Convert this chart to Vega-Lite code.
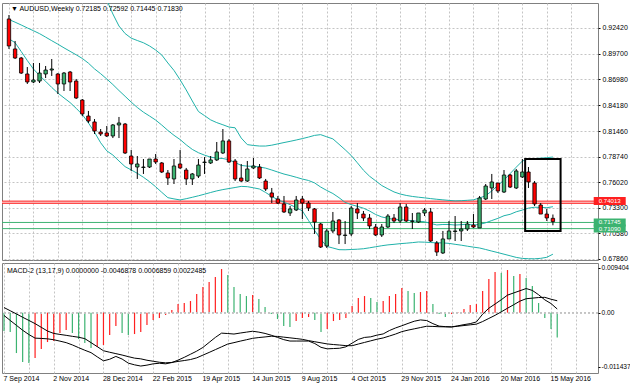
{
  "$schema": "https://vega.github.io/schema/vega-lite/v6.json",
  "background": "white",
  "padding": {"left": 1, "top": 2, "right": 0, "bottom": 6.5},
  "spacing": 3,
  "bounds": "flush",
  "config": {
    "view": {"stroke": "#808080", "strokeWidth": 1},
    "font": "Liberation Sans",
    "axis": {"labelFont": "Liberation Sans", "labelFontSize": 7, "labelColor": "#000000", "gridColor": "#c4c4c4", "gridDash": [2, 2], "gridWidth": 1, "labelOverlap": false, "labelSeparation": 0}
  },
  "datasets": {
    "candles": [
      {"date":"2014-09-07","open":0.9338,"high":0.9380,"low":0.9019,"close":0.9051,"upper":null,"middle":0.9332,"lower":0.9127},
      {"date":"2014-09-14","open":0.9019,"high":0.9104,"low":0.8912,"close":0.8923,"upper":null,"middle":0.9304,"lower":0.9086},
      {"date":"2014-09-21","open":0.8923,"high":0.8934,"low":0.8753,"close":0.8763,"upper":null,"middle":0.9274,"lower":0.8992},
      {"date":"2014-09-28","open":0.8753,"high":0.8827,"low":0.8647,"close":0.8668,"upper":null,"middle":0.9243,"lower":0.8896},
      {"date":"2014-10-05","open":0.8668,"high":0.8870,"low":0.8657,"close":0.8689,"upper":null,"middle":0.9213,"lower":0.8806},
      {"date":"2014-10-12","open":0.8678,"high":0.8870,"low":0.8657,"close":0.8763,"upper":null,"middle":0.9182,"lower":0.8737},
      {"date":"2014-10-19","open":0.8753,"high":0.8838,"low":0.8710,"close":0.8795,"upper":null,"middle":0.9145,"lower":0.8675},
      {"date":"2014-10-26","open":0.8795,"high":0.8912,"low":0.8732,"close":0.8806,"upper":null,"middle":0.9107,"lower":0.8610},
      {"date":"2014-11-02","open":0.8753,"high":0.8763,"low":0.8540,"close":0.8647,"upper":null,"middle":0.9070,"lower":0.8550},
      {"date":"2014-11-09","open":0.8647,"high":0.8774,"low":0.8572,"close":0.8763,"upper":null,"middle":0.9031,"lower":0.8499},
      {"date":"2014-11-16","open":0.8774,"high":0.8785,"low":0.8572,"close":0.8668,"upper":null,"middle":0.8994,"lower":0.8449},
      {"date":"2014-11-23","open":0.8678,"high":0.8700,"low":0.8487,"close":0.8498,"upper":null,"middle":0.8957,"lower":0.8388},
      {"date":"2014-11-30","open":0.8476,"high":0.8487,"low":0.8306,"close":0.8328,"upper":null,"middle":0.8918,"lower":0.8322},
      {"date":"2014-12-07","open":0.8306,"high":0.8360,"low":0.8232,"close":0.8253,"upper":null,"middle":0.8868,"lower":0.8233},
      {"date":"2014-12-14","open":0.8243,"high":0.8274,"low":0.8115,"close":0.8147,"upper":0.9795,"middle":0.8807,"lower":0.8134},
      {"date":"2014-12-21","open":0.8136,"high":0.8168,"low":0.8094,"close":0.8115,"upper":0.9667,"middle":0.8756,"lower":0.8022},
      {"date":"2014-12-28","open":0.8126,"high":0.8200,"low":0.8083,"close":0.8094,"upper":0.9540,"middle":0.8700,"lower":0.7936},
      {"date":"2015-01-04","open":0.8094,"high":0.8221,"low":0.8072,"close":0.8211,"upper":0.9391,"middle":0.8641,"lower":0.7891},
      {"date":"2015-01-11","open":0.8211,"high":0.8296,"low":0.8072,"close":0.8232,"upper":0.9263,"middle":0.8577,"lower":0.7828},
      {"date":"2015-01-18","open":0.8221,"high":0.8232,"low":0.7902,"close":0.7913,"upper":0.9183,"middle":0.8516,"lower":0.7768},
      {"date":"2015-01-25","open":0.7881,"high":0.7945,"low":0.7722,"close":0.7796,"upper":0.9134,"middle":0.8454,"lower":0.7733},
      {"date":"2015-02-01","open":0.7764,"high":0.7881,"low":0.7637,"close":0.7796,"upper":0.9109,"middle":0.8397,"lower":0.7697},
      {"date":"2015-02-08","open":0.7759,"high":0.7849,"low":0.7690,"close":0.7764,"upper":0.9085,"middle":0.8347,"lower":0.7655},
      {"date":"2015-02-15","open":0.7764,"high":0.7849,"low":0.7754,"close":0.7849,"upper":0.9051,"middle":0.8306,"lower":0.7608},
      {"date":"2015-02-22","open":0.7849,"high":0.7902,"low":0.7796,"close":0.7817,"upper":0.9008,"middle":0.8263,"lower":0.7554},
      {"date":"2015-03-01","open":0.7807,"high":0.7817,"low":0.7700,"close":0.7711,"upper":0.8955,"middle":0.8210,"lower":0.7495},
      {"date":"2015-03-08","open":0.7700,"high":0.7732,"low":0.7573,"close":0.7647,"upper":0.8870,"middle":0.8153,"lower":0.7438},
      {"date":"2015-03-15","open":0.7637,"high":0.7849,"low":0.7583,"close":0.7775,"upper":0.8791,"middle":0.8101,"lower":0.7425},
      {"date":"2015-03-22","open":0.7796,"high":0.7945,"low":0.7743,"close":0.7754,"upper":0.8691,"middle":0.8056,"lower":0.7414},
      {"date":"2015-03-29","open":0.7732,"high":0.7754,"low":0.7573,"close":0.7637,"upper":0.8583,"middle":0.8000,"lower":0.7427},
      {"date":"2015-04-05","open":0.7637,"high":0.7700,"low":0.7573,"close":0.7690,"upper":0.8466,"middle":0.7951,"lower":0.7442},
      {"date":"2015-04-12","open":0.7668,"high":0.7849,"low":0.7647,"close":0.7785,"upper":0.8354,"middle":0.7916,"lower":0.7458},
      {"date":"2015-04-19","open":0.7812,"high":0.7870,"low":0.7690,"close":0.7817,"upper":0.8310,"middle":0.7890,"lower":0.7475},
      {"date":"2015-04-26","open":0.7807,"high":0.7881,"low":0.7796,"close":0.7839,"upper":0.8265,"middle":0.7869,"lower":0.7493},
      {"date":"2015-05-03","open":0.7839,"high":0.8030,"low":0.7828,"close":0.7924,"upper":0.8236,"middle":0.7858,"lower":0.7510},
      {"date":"2015-05-10","open":0.7913,"high":0.8168,"low":0.7902,"close":0.8041,"upper":0.8213,"middle":0.7854,"lower":0.7524},
      {"date":"2015-05-17","open":0.8041,"high":0.8062,"low":0.7807,"close":0.7817,"upper":0.8189,"middle":0.7841,"lower":0.7535},
      {"date":"2015-05-24","open":0.7828,"high":0.7849,"low":0.7615,"close":0.7637,"upper":0.8181,"middle":0.7812,"lower":0.7546},
      {"date":"2015-05-31","open":0.7647,"high":0.7796,"low":0.7605,"close":0.7615,"upper":0.8072,"middle":0.7781,"lower":0.7558},
      {"date":"2015-06-07","open":0.7615,"high":0.7828,"low":0.7605,"close":0.7743,"upper":0.8002,"middle":0.7773,"lower":0.7555},
      {"date":"2015-06-14","open":0.7754,"high":0.7860,"low":0.7743,"close":0.7775,"upper":0.7993,"middle":0.7772,"lower":0.7543},
      {"date":"2015-06-21","open":0.7764,"high":0.7796,"low":0.7637,"close":0.7647,"upper":0.7987,"middle":0.7764,"lower":0.7530},
      {"date":"2015-06-28","open":0.7615,"high":0.7637,"low":0.7509,"close":0.7530,"upper":0.7987,"middle":0.7752,"lower":0.7493},
      {"date":"2015-07-05","open":0.7488,"high":0.7541,"low":0.7381,"close":0.7445,"upper":0.7996,"middle":0.7732,"lower":0.7451},
      {"date":"2015-07-12","open":0.7424,"high":0.7456,"low":0.7371,"close":0.7381,"upper":0.8010,"middle":0.7710,"lower":0.7416},
      {"date":"2015-07-19","open":0.7371,"high":0.7456,"low":0.7275,"close":0.7286,"upper":0.8024,"middle":0.7689,"lower":0.7390},
      {"date":"2015-07-26","open":0.7275,"high":0.7349,"low":0.7243,"close":0.7318,"upper":0.8037,"middle":0.7673,"lower":0.7364},
      {"date":"2015-08-02","open":0.7307,"high":0.7456,"low":0.7296,"close":0.7413,"upper":0.8051,"middle":0.7655,"lower":0.7332},
      {"date":"2015-08-09","open":0.7424,"high":0.7456,"low":0.7211,"close":0.7381,"upper":0.8066,"middle":0.7636,"lower":0.7298},
      {"date":"2015-08-16","open":0.7381,"high":0.7403,"low":0.7296,"close":0.7328,"upper":0.8082,"middle":0.7621,"lower":0.7197},
      {"date":"2015-08-23","open":0.7318,"high":0.7328,"low":0.7052,"close":0.7179,"upper":0.8100,"middle":0.7595,"lower":0.7090},
      {"date":"2015-08-30","open":0.7158,"high":0.7169,"low":0.6903,"close":0.6913,"upper":0.8108,"middle":0.7551,"lower":0.6996},
      {"date":"2015-09-06","open":0.6924,"high":0.7105,"low":0.6903,"close":0.7084,"upper":0.8085,"middle":0.7515,"lower":0.6920},
      {"date":"2015-09-13","open":0.7084,"high":0.7286,"low":0.7062,"close":0.7190,"upper":0.8063,"middle":0.7482,"lower":0.6903},
      {"date":"2015-09-20","open":0.7201,"high":0.7211,"low":0.6945,"close":0.7041,"upper":0.8006,"middle":0.7438,"lower":0.6885},
      {"date":"2015-09-27","open":0.7036,"high":0.7190,"low":0.6945,"close":0.7041,"upper":0.7948,"middle":0.7388,"lower":0.6884},
      {"date":"2015-10-04","open":0.7052,"high":0.7349,"low":0.7030,"close":0.7328,"upper":0.7886,"middle":0.7364,"lower":0.6887},
      {"date":"2015-10-11","open":0.7318,"high":0.7381,"low":0.7211,"close":0.7275,"upper":0.7809,"middle":0.7346,"lower":0.6890},
      {"date":"2015-10-18","open":0.7264,"high":0.7296,"low":0.7190,"close":0.7222,"upper":0.7730,"middle":0.7326,"lower":0.6895},
      {"date":"2015-10-25","open":0.7222,"high":0.7264,"low":0.7105,"close":0.7137,"upper":0.7666,"middle":0.7296,"lower":0.6905},
      {"date":"2015-11-01","open":0.7126,"high":0.7158,"low":0.7030,"close":0.7041,"upper":0.7617,"middle":0.7259,"lower":0.6916},
      {"date":"2015-11-08","open":0.7041,"high":0.7158,"low":0.7020,"close":0.7126,"upper":0.7567,"middle":0.7233,"lower":0.6927},
      {"date":"2015-11-15","open":0.7126,"high":0.7264,"low":0.7116,"close":0.7243,"upper":0.7532,"middle":0.7219,"lower":0.6936},
      {"date":"2015-11-22","open":0.7222,"high":0.7264,"low":0.7169,"close":0.7190,"upper":0.7499,"middle":0.7206,"lower":0.6942},
      {"date":"2015-11-29","open":0.7190,"high":0.7381,"low":0.7169,"close":0.7339,"upper":0.7477,"middle":0.7204,"lower":0.6949},
      {"date":"2015-12-06","open":0.7339,"high":0.7371,"low":0.7179,"close":0.7190,"upper":0.7462,"middle":0.7199,"lower":0.6954},
      {"date":"2015-12-13","open":0.7185,"high":0.7275,"low":0.7105,"close":0.7190,"upper":0.7451,"middle":0.7193,"lower":0.6960},
      {"date":"2015-12-20","open":0.7179,"high":0.7275,"low":0.7169,"close":0.7275,"upper":0.7443,"middle":0.7186,"lower":0.6967},
      {"date":"2015-12-27","open":0.7275,"high":0.7328,"low":0.7243,"close":0.7307,"upper":0.7436,"middle":0.7182,"lower":0.6965},
      {"date":"2016-01-03","open":0.7286,"high":0.7328,"low":0.6967,"close":0.6977,"upper":0.7428,"middle":0.7164,"lower":0.6961},
      {"date":"2016-01-10","open":0.6956,"high":0.6977,"low":0.6818,"close":0.6860,"upper":0.7421,"middle":0.7148,"lower":0.6958},
      {"date":"2016-01-17","open":0.6850,"high":0.7084,"low":0.6839,"close":0.6999,"upper":0.7415,"middle":0.7153,"lower":0.6957},
      {"date":"2016-01-24","open":0.6999,"high":0.7190,"low":0.6999,"close":0.7084,"upper":0.7409,"middle":0.7153,"lower":0.6952},
      {"date":"2016-01-31","open":0.7078,"high":0.7243,"low":0.6977,"close":0.7084,"upper":0.7404,"middle":0.7147,"lower":0.6942},
      {"date":"2016-02-07","open":0.7084,"high":0.7190,"low":0.6977,"close":0.7105,"upper":0.7406,"middle":0.7151,"lower":0.6933},
      {"date":"2016-02-14","open":0.7105,"high":0.7190,"low":0.7084,"close":0.7158,"upper":0.7410,"middle":0.7156,"lower":0.6922},
      {"date":"2016-02-21","open":0.7147,"high":0.7264,"low":0.7116,"close":0.7126,"upper":0.7415,"middle":0.7146,"lower":0.6912},
      {"date":"2016-02-28","open":0.7116,"high":0.7456,"low":0.7116,"close":0.7435,"upper":0.7435,"middle":0.7154,"lower":0.6903},
      {"date":"2016-03-06","open":0.7424,"high":0.7583,"low":0.7413,"close":0.7562,"upper":0.7458,"middle":0.7171,"lower":0.6887},
      {"date":"2016-03-13","open":0.7541,"high":0.7690,"low":0.7424,"close":0.7605,"upper":0.7510,"middle":0.7195,"lower":0.6870},
      {"date":"2016-03-20","open":0.7594,"high":0.7594,"low":0.7488,"close":0.7509,"upper":0.7568,"middle":0.7218,"lower":0.6854},
      {"date":"2016-03-27","open":0.7498,"high":0.7732,"low":0.7488,"close":0.7679,"upper":0.7626,"middle":0.7246,"lower":0.6837},
      {"date":"2016-04-03","open":0.7679,"high":0.7690,"low":0.7541,"close":0.7551,"upper":0.7694,"middle":0.7261,"lower":0.6820},
      {"date":"2016-04-10","open":0.7541,"high":0.7743,"low":0.7530,"close":0.7722,"upper":0.7762,"middle":0.7288,"lower":0.6803},
      {"date":"2016-04-17","open":0.7658,"high":0.7849,"low":0.7647,"close":0.7711,"upper":0.7827,"middle":0.7306,"lower":0.6792},
      {"date":"2016-04-24","open":0.7711,"high":0.7764,"low":0.7541,"close":0.7605,"upper":0.7851,"middle":0.7327,"lower":0.6789},
      {"date":"2016-05-01","open":0.7594,"high":0.7615,"low":0.7349,"close":0.7371,"upper":0.7854,"middle":0.7336,"lower":0.6788},
      {"date":"2016-05-08","open":0.7360,"high":0.7381,"low":0.7264,"close":0.7264,"upper":0.7858,"middle":0.7335,"lower":0.6793},
      {"date":"2016-05-15","open":0.7264,"high":0.7318,"low":0.7190,"close":0.7222,"upper":0.7863,"middle":0.7331,"lower":0.6804},
      {"date":"2016-05-22","open":0.72185,"high":0.72592,"low":0.71445,"close":0.71830,"upper":0.7870,"middle":0.7342,"lower":0.6837}
    ],
    "macd": [
      {"date":"2014-09-07","hist":-0.003486,"dir":"down","macd":-0.000531,"signal":0.000966},
      {"date":"2014-09-14","hist":-0.003676,"dir":"down","macd":-0.001478,"signal":0.00036},
      {"date":"2014-09-21","hist":-0.007655,"dir":"down","macd":-0.002406,"signal":-0.000246},
      {"date":"2014-09-28","hist":-0.00936,"dir":"down","macd":-0.003335,"signal":-0.000872},
      {"date":"2014-10-05","hist":-0.009549,"dir":"down","macd":-0.004149,"signal":-0.001478},
      {"date":"2014-10-12","hist":-0.008602,"dir":"up","macd":-0.004831,"signal":-0.002084},
      {"date":"2014-10-19","hist":-0.006897,"dir":"up","macd":-0.004888,"signal":-0.002785},
      {"date":"2014-10-26","hist":-0.00557,"dir":"up","macd":-0.004964,"signal":-0.003486},
      {"date":"2014-11-02","hist":-0.005381,"dir":"up","macd":-0.005135,"signal":-0.003941},
      {"date":"2014-11-09","hist":-0.003865,"dir":"up","macd":-0.0054,"signal":-0.00413},
      {"date":"2014-11-16","hist":-0.003297,"dir":"up","macd":-0.005684,"signal":-0.004301},
      {"date":"2014-11-23","hist":-0.003865,"dir":"down","macd":-0.00612,"signal":-0.00449},
      {"date":"2014-11-30","hist":-0.005002,"dir":"down","macd":-0.006631,"signal":-0.004661},
      {"date":"2014-12-07","hist":-0.00576,"dir":"down","macd":-0.007124,"signal":-0.004926},
      {"date":"2014-12-14","hist":-0.006707,"dir":"down","macd":-0.007579,"signal":-0.005684},
      {"date":"2014-12-21","hist":-0.006518,"dir":"up","macd":-0.008375,"signal":-0.006442},
      {"date":"2014-12-28","hist":-0.006139,"dir":"up","macd":-0.009132,"signal":-0.007219},
      {"date":"2015-01-04","hist":-0.004244,"dir":"up","macd":-0.008829,"signal":-0.007503},
      {"date":"2015-01-11","hist":-0.002539,"dir":"up","macd":-0.008299,"signal":-0.007768},
      {"date":"2015-01-18","hist":-0.003865,"dir":"down","macd":-0.008791,"signal":-0.008034},
      {"date":"2015-01-25","hist":-0.004244,"dir":"down","macd":-0.009568,"signal":-0.008337},
      {"date":"2015-02-01","hist":-0.004055,"dir":"up","macd":-0.00989,"signal":-0.008621},
      {"date":"2015-02-08","hist":-0.003676,"dir":"up","macd":-0.010118,"signal":-0.008754},
      {"date":"2015-02-15","hist":-0.002349,"dir":"up","macd":-0.009947,"signal":-0.009019},
      {"date":"2015-02-22","hist":-0.001402,"dir":"up","macd":-0.009701,"signal":-0.009208},
      {"date":"2015-03-01","hist":-0.001023,"dir":"up","macd":-0.009587,"signal":-0.009398},
      {"date":"2015-03-08","hist":-0.000455,"dir":"up","macd":-0.009701,"signal":-0.009511},
      {"date":"2015-03-15","hist":0.000493,"dir":"up","macd":-0.009455,"signal":-0.009436},
      {"date":"2015-03-22","hist":0.001629,"dir":"up","macd":-0.0090,"signal":-0.009246},
      {"date":"2015-03-29","hist":0.001819,"dir":"up","macd":-0.008469,"signal":-0.009076},
      {"date":"2015-04-05","hist":0.002198,"dir":"up","macd":-0.007882,"signal":-0.008886},
      {"date":"2015-04-12","hist":0.003524,"dir":"up","macd":-0.007295,"signal":-0.008564},
      {"date":"2015-04-19","hist":0.00485,"dir":"up","macd":-0.006594,"signal":-0.008052},
      {"date":"2015-04-26","hist":0.005798,"dir":"up","macd":-0.005646,"signal":-0.007541},
      {"date":"2015-05-03","hist":0.006745,"dir":"up","macd":-0.004699,"signal":-0.00701},
      {"date":"2015-05-10","hist":0.008261,"dir":"up","macd":-0.003884,"signal":-0.00648},
      {"date":"2015-05-17","hist":0.007124,"dir":"down","macd":-0.00396,"signal":-0.005949},
      {"date":"2015-05-24","hist":0.00485,"dir":"down","macd":-0.004055,"signal":-0.005684},
      {"date":"2015-05-31","hist":0.003524,"dir":"down","macd":-0.003865,"signal":-0.0054},
      {"date":"2015-06-07","hist":0.003145,"dir":"down","macd":-0.003695,"signal":-0.005135},
      {"date":"2015-06-14","hist":0.003335,"dir":"up","macd":-0.003524,"signal":-0.004869},
      {"date":"2015-06-21","hist":0.002577,"dir":"down","macd":-0.003695,"signal":-0.004718},
      {"date":"2015-06-28","hist":0.001061,"dir":"down","macd":-0.003941,"signal":-0.004604},
      {"date":"2015-07-05","hist":-0.000265,"dir":"down","macd":-0.004282,"signal":-0.004471},
      {"date":"2015-07-12","hist":-0.001213,"dir":"down","macd":-0.004699,"signal":-0.004509},
      {"date":"2015-07-19","hist":-0.002539,"dir":"down","macd":-0.005116,"signal":-0.004642},
      {"date":"2015-07-26","hist":-0.002728,"dir":"down","macd":-0.005381,"signal":-0.004775},
      {"date":"2015-08-02","hist":-0.001592,"dir":"up","macd":-0.005381,"signal":-0.004907},
      {"date":"2015-08-09","hist":-0.001023,"dir":"up","macd":-0.005381,"signal":-0.005059},
      {"date":"2015-08-16","hist":-0.000834,"dir":"up","macd":-0.005381,"signal":-0.005305},
      {"date":"2015-08-23","hist":-0.001402,"dir":"down","macd":-0.005855,"signal":-0.005514},
      {"date":"2015-08-30","hist":-0.003676,"dir":"down","macd":-0.006575,"signal":-0.005722},
      {"date":"2015-09-06","hist":-0.003107,"dir":"up","macd":-0.006859,"signal":-0.00593},
      {"date":"2015-09-13","hist":-0.001592,"dir":"up","macd":-0.006802,"signal":-0.006044},
      {"date":"2015-09-20","hist":-0.001402,"dir":"up","macd":-0.006745,"signal":-0.006139},
      {"date":"2015-09-27","hist":-0.001023,"dir":"up","macd":-0.00648,"signal":-0.006253},
      {"date":"2015-10-04","hist":0.001251,"dir":"up","macd":-0.005779,"signal":-0.006271},
      {"date":"2015-10-11","hist":0.002766,"dir":"up","macd":-0.005078,"signal":-0.005949},
      {"date":"2015-10-18","hist":0.003145,"dir":"up","macd":-0.004699,"signal":-0.005646},
      {"date":"2015-10-25","hist":0.002766,"dir":"down","macd":-0.004585,"signal":-0.005343},
      {"date":"2015-11-01","hist":0.002008,"dir":"down","macd":-0.004263,"signal":-0.00504},
      {"date":"2015-11-08","hist":0.002198,"dir":"up","macd":-0.004036,"signal":-0.004794},
      {"date":"2015-11-15","hist":0.003145,"dir":"up","macd":-0.003392,"signal":-0.004434},
      {"date":"2015-11-22","hist":0.003524,"dir":"up","macd":-0.002899,"signal":-0.004055},
      {"date":"2015-11-29","hist":0.004661,"dir":"up","macd":-0.002482,"signal":-0.0036},
      {"date":"2015-12-06","hist":0.004093,"dir":"down","macd":-0.002046,"signal":-0.003316},
      {"date":"2015-12-13","hist":0.003714,"dir":"down","macd":-0.001629,"signal":-0.003069},
      {"date":"2015-12-20","hist":0.003903,"dir":"up","macd":-0.001383,"signal":-0.002823},
      {"date":"2015-12-27","hist":0.004093,"dir":"up","macd":-0.001497,"signal":-0.002577},
      {"date":"2016-01-03","hist":0.001629,"dir":"down","macd":-0.002084,"signal":-0.002615},
      {"date":"2016-01-10","hist":-0.000265,"dir":"down","macd":-0.002558,"signal":-0.002672},
      {"date":"2016-01-17","hist":-0.000834,"dir":"down","macd":-0.002653,"signal":-0.00269},
      {"date":"2016-01-24","hist":-0.000265,"dir":"up","macd":-0.002709,"signal":-0.002709},
      {"date":"2016-01-31","hist":0.000114,"dir":"up","macd":-0.002501,"signal":-0.002577},
      {"date":"2016-02-07","hist":0.000682,"dir":"up","macd":-0.002274,"signal":-0.002444},
      {"date":"2016-02-14","hist":0.00144,"dir":"up","macd":-0.002084,"signal":-0.002312},
      {"date":"2016-02-21","hist":0.001629,"dir":"up","macd":-0.001762,"signal":-0.002179},
      {"date":"2016-02-28","hist":0.004093,"dir":"up","macd":-0.000284,"signal":-0.001686},
      {"date":"2016-03-06","hist":0.006366,"dir":"up","macd":0.000834,"signal":-0.001099},
      {"date":"2016-03-13","hist":0.007692,"dir":"up","macd":0.001629,"signal":-0.000512},
      {"date":"2016-03-20","hist":0.007503,"dir":"down","macd":0.002444,"signal":0.000152},
      {"date":"2016-03-27","hist":0.008071,"dir":"up","macd":0.003316,"signal":0.000834},
      {"date":"2016-04-03","hist":0.006935,"dir":"down","macd":0.003733,"signal":0.001497},
      {"date":"2016-04-10","hist":0.007313,"dir":"up","macd":0.004149,"signal":0.002179},
      {"date":"2016-04-17","hist":0.006556,"dir":"down","macd":0.004566,"signal":0.002634},
      {"date":"2016-04-24","hist":0.00504,"dir":"down","macd":0.004206,"signal":0.002747},
      {"date":"2016-05-01","hist":0.001819,"dir":"down","macd":0.003392,"signal":0.002861},
      {"date":"2016-05-08","hist":-0.001023,"dir":"down","macd":0.002425,"signal":0.002899},
      {"date":"2016-05-15","hist":-0.003107,"dir":"down","macd":0.001724,"signal":0.002539},
      {"date":"2016-05-22","hist":-0.0046878,"dir":"down","macd":0.0006859,"signal":0.0022485}
    ],
    "levels": [
      {"price": 0.74013, "kind": "res"},
      {"price": 0.7378, "kind": "res"},
      {"price": 0.71745, "kind": "sup"},
      {"price": 0.7109, "kind": "sup"}
    ],
    "zone": [{"hi": 0.74013, "lo": 0.7378}],
    "tags": [
      {"price": 0.7109, "label": "0.71090", "kind": "sup"},
      {"price": 0.71745, "label": "0.71745", "kind": "sup"},
      {"price": 0.74013, "label": "0.74013", "kind": "res"}
    ],
    "box": [{"start": "2016-04-20T05:00:00Z", "end": "2016-05-30T19:00:00Z", "top": 0.7849, "bottom": 0.7084}],
    "titles": [{"text": "▼  AUDUSD,Weekly  0.72185 0.72592 0.71445 0.71830"}],
    "macdtitle": [{"text": "MACD-2 (13,17,9) 0.0000000 -0.0046878 0.0006859 0.0022485"}]
  },
  "vconcat": [
    {
      "width": 596,
      "height": 257,
      "layer": [
        {
          "data": {"name": "zone"},
          "mark": {"type": "rect", "color": "#fbd3d3"},
          "encoding": {
            "y": {"field": "hi", "type": "quantitative", "scale": {"domain": [0.67753, 0.95077], "zero": false, "nice": false},
                  "axis": {"orient": "right", "values": [0.9242, 0.897, 0.8698, 0.8418, 0.8146, 0.7874, 0.7602, 0.733, 0.7058, 0.6786], "tickCount": 30, "format": ".5f", "grid": true, "tickSize": 2, "tickColor": "#000000", "domain": false, "labelPadding": 2, "labelOverlap": false, "labelBound": false, "title": null}},
            "y2": {"field": "lo"}
          }
        },
        {
          "data": {"name": "levels"},
          "mark": {"type": "rule", "strokeWidth": 1},
          "encoding": {
            "y": {"field": "price", "type": "quantitative"},
            "color": {"field": "kind", "type": "nominal", "scale": {"domain": ["res", "sup"], "range": ["#ff2020", "#3cb371"]}, "legend": null}
          }
        },
        {
          "data": {"name": "candles"},
          "mark": {"type": "line", "color": "#20b2aa", "strokeWidth": 1, "clip": true},
          "encoding": {
            "x": {"field": "date", "type": "temporal", "scale": {"type": "utc", "domain": [1409853400000, 1467842600000]},
                  "axis": {"values": [1410048000000, 1412467200000, 1414886400000, 1417305600000, 1419724800000, 1422144000000, 1424563200000, 1426982400000, 1429401600000, 1431820800000, 1434240000000, 1436659200000, 1439078400000, 1441497600000, 1443916800000, 1446336000000, 1448755200000, 1451174400000, 1453593600000, 1456012800000, 1458432000000, 1460851200000, 1463270400000, 1465689600000], "tickCount": 60, "labels": false, "ticks": false, "domain": false, "grid": true, "title": null}},
            "y": {"field": "upper", "type": "quantitative"}
          }
        },
        {
          "data": {"name": "candles"},
          "mark": {"type": "line", "color": "#20b2aa", "strokeWidth": 1, "clip": true},
          "encoding": {
            "x": {"field": "date", "type": "temporal"},
            "y": {"field": "middle", "type": "quantitative"}
          }
        },
        {
          "data": {"name": "candles"},
          "mark": {"type": "line", "color": "#20b2aa", "strokeWidth": 1, "clip": true},
          "encoding": {
            "x": {"field": "date", "type": "temporal"},
            "y": {"field": "lower", "type": "quantitative"}
          }
        },
        {
          "data": {"name": "candles"},
          "mark": {"type": "rule", "color": "#000000", "strokeWidth": 1},
          "encoding": {
            "x": {"field": "date", "type": "temporal"},
            "y": {"field": "low", "type": "quantitative"},
            "y2": {"field": "high"}
          }
        },
        {
          "data": {"name": "candles"},
          "mark": {"type": "bar", "size": 3.4, "stroke": "#000000", "strokeWidth": 0.8},
          "encoding": {
            "x": {"field": "date", "type": "temporal"},
            "y": {"field": "open", "type": "quantitative"},
            "y2": {"field": "close"},
            "fill": {"condition": {"test": "datum.close >= datum.open", "value": "#3cb371"}, "value": "#ff0000"}
          }
        },
        {
          "data": {"name": "box"},
          "mark": {"type": "rect", "fill": null, "fillOpacity": 0, "stroke": "#000000", "strokeWidth": 2},
          "encoding": {
            "x": {"field": "start", "type": "temporal"},
            "x2": {"field": "end"},
            "y": {"field": "top", "type": "quantitative"},
            "y2": {"field": "bottom"}
          }
        },
        {
          "data": {"name": "tags"},
          "mark": {"type": "tick", "orient": "vertical", "size": 8, "thickness": 32, "opacity": 1},
          "encoding": {
            "x": {"datum": 1469496632400, "type": "temporal"},
            "y": {"field": "price", "type": "quantitative"},
            "color": {"field": "kind", "type": "nominal", "scale": {"domain": ["res", "sup"], "range": ["#ff2020", "#3cb371"]}, "legend": null}
          }
        },
        {
          "data": {"name": "tags"},
          "mark": {"type": "text", "color": "#ffffff", "fontSize": 6.1, "font": "Liberation Sans", "align": "center", "baseline": "middle"},
          "encoding": {
            "x": {"datum": 1469496632400, "type": "temporal"},
            "y": {"field": "price", "type": "quantitative"},
            "text": {"field": "label"}
          }
        },
        {
          "data": {"name": "titles"},
          "mark": {"type": "text", "color": "#000000", "fontSize": 7, "font": "Liberation Sans", "align": "left", "baseline": "alphabetic"},
          "encoding": {
            "x": {"datum": 1410242594595, "type": "temporal"},
            "y": {"datum": 0.94226, "type": "quantitative"},
            "text": {"field": "text"}
          }
        }
      ]
    },
    {
      "width": 596,
      "height": 110,
      "layer": [
        {
          "data": {"name": "macd"},
          "mark": {"type": "rule", "strokeWidth": 1.2},
          "encoding": {
            "x": {"field": "date", "type": "temporal", "scale": {"type": "utc", "domain": [1409853400000, 1467842600000]},
                  "axis": {"values": [1410048000000, 1412467200000, 1414886400000, 1417305600000, 1419724800000, 1422144000000, 1424563200000, 1426982400000, 1429401600000, 1431820800000, 1434240000000, 1436659200000, 1439078400000, 1441497600000, 1443916800000, 1446336000000, 1448755200000, 1451174400000, 1453593600000, 1456012800000, 1458432000000, 1460851200000, 1463270400000, 1465689600000],
                           "tickCount": 60,
                           "labelExpr": "(round((datum.value - 1410048000000) / 2419200000) % 2 == 0) ? utcFormat(datum.value, '%-d %b %Y') : ''",
                           "labelAlign": "left", "labelBaseline": "top", "labelPadding": 1, "labelOverlap": false, "labelFlush": false, "labelBound": false, "ticks": false, "domain": false, "grid": true, "title": null, "labelOffset": -1}},
            "y": {"field": "hist", "type": "quantitative", "scale": {"domain": [-0.011437, 0.009404], "zero": false, "nice": false},
                  "axis": {"orient": "right", "values": [0.00846, 0, -0.0103], "tickCount": 10, "labelExpr": "datum.value > 0.005 ? '0.009404' : (datum.value < -0.005 ? '-0.011437' : '0.00')", "grid": false, "tickSize": 2, "tickColor": "#000000", "domain": false, "labelPadding": 1, "labelFontSize": 6.6, "labelOverlap": false, "labelBound": false, "labelFlush": false, "title": null}},
            "y2": {"datum": 0},
            "color": {"field": "dir", "type": "nominal", "scale": {"domain": ["up", "down"], "range": ["#32cd32", "#ff0000"]}, "legend": null}
          }
        },
        {
          "data": {"name": "macd"},
          "mark": {"type": "rule", "color": "#c4c4c4", "strokeDash": [2, 2], "strokeWidth": 1},
          "encoding": {"y": {"datum": 0, "type": "quantitative"}}
        },
        {
          "data": {"name": "macd"},
          "mark": {"type": "line", "color": "#000000", "strokeWidth": 1},
          "encoding": {
            "x": {"field": "date", "type": "temporal"},
            "y": {"field": "signal", "type": "quantitative"}
          }
        },
        {
          "data": {"name": "macd"},
          "mark": {"type": "line", "color": "#000000", "strokeWidth": 1},
          "encoding": {
            "x": {"field": "date", "type": "temporal"},
            "y": {"field": "macd", "type": "quantitative"}
          }
        },
        {
          "data": {"name": "macdtitle"},
          "mark": {"type": "text", "color": "#000000", "fontSize": 7, "font": "Liberation Sans", "align": "left", "baseline": "alphabetic"},
          "encoding": {
            "x": {"datum": 1410339891892, "type": "temporal"},
            "y": {"datum": 0.007509, "type": "quantitative"},
            "text": {"field": "text"}
          }
        }
      ]
    }
  ]
}
